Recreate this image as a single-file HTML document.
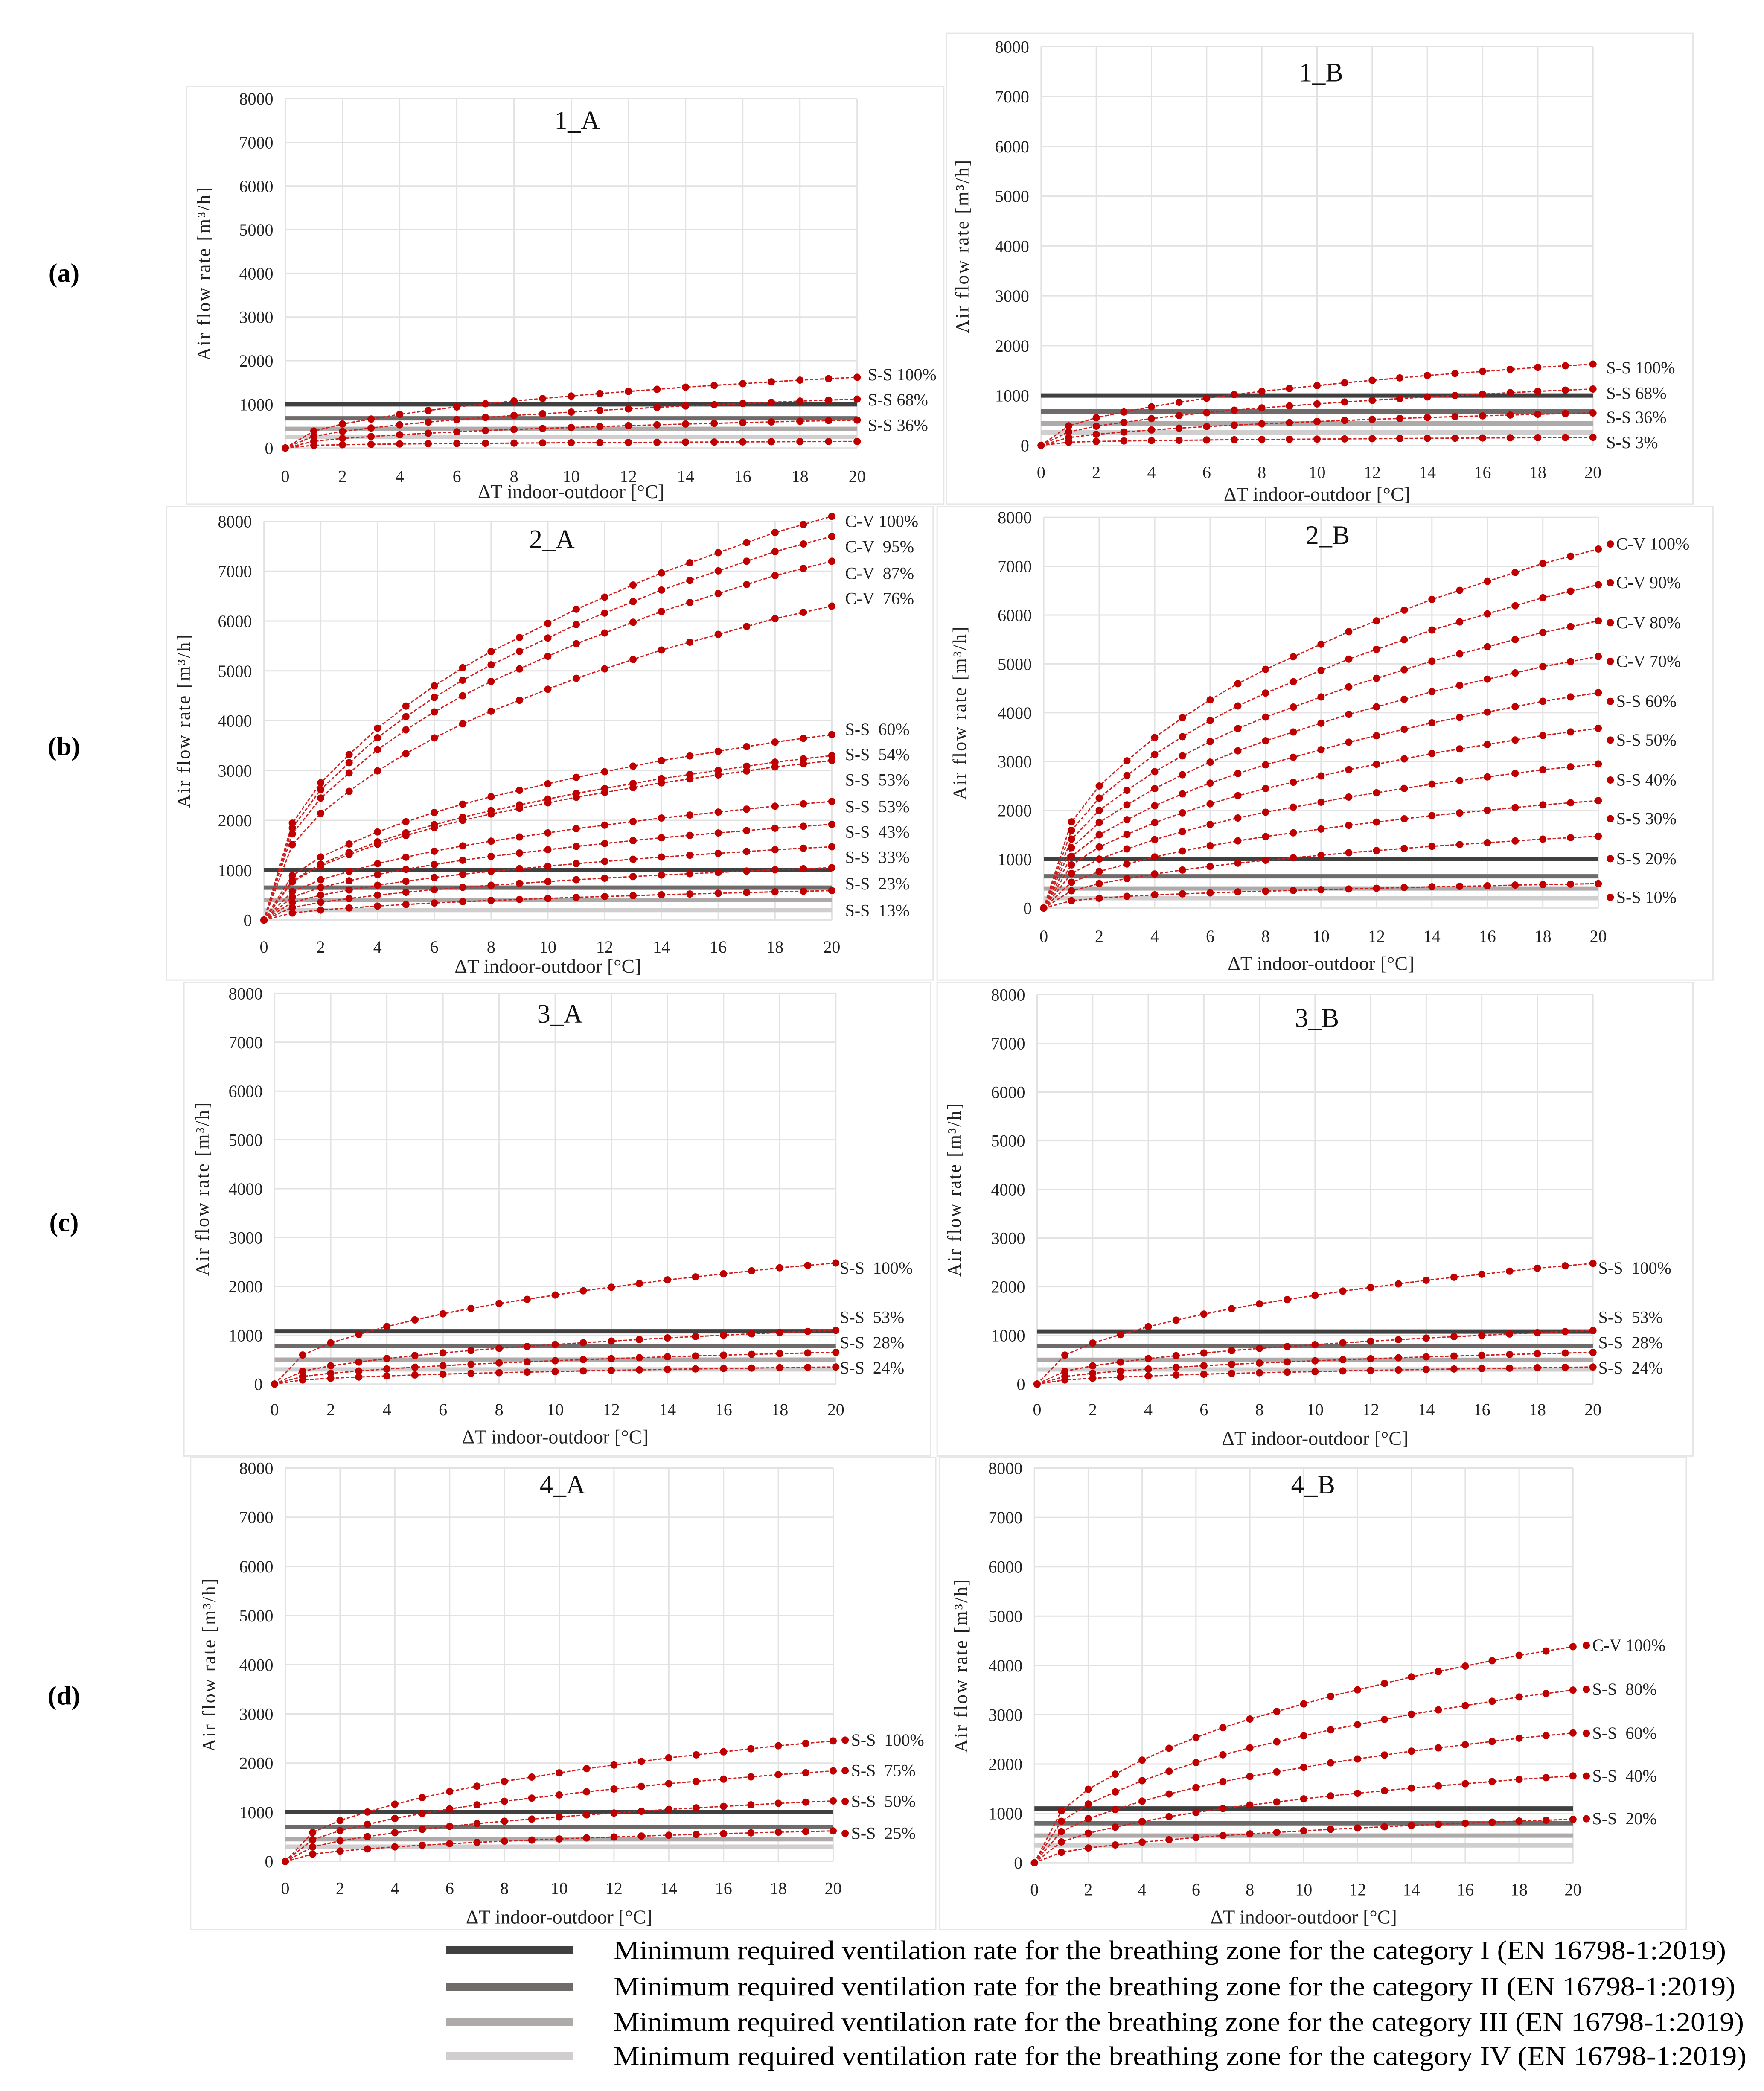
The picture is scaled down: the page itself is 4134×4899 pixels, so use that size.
<!DOCTYPE html>
<html><head><meta charset="utf-8">
<style>
html,body{margin:0;padding:0;background:#fff;}
svg{display:block;font-family:"Liberation Serif",serif;}
</style></head>
<body>
<svg id="chart" width="4134" height="4899" viewBox="0 0 4134 4899" xmlns="http://www.w3.org/2000/svg">
<rect x="0" y="0" width="4134" height="4899" fill="#fff"/>
<g id="panels"></g>
<g id="legend"></g>
</svg>
<script>
// ---------- data ----------
const xCategories = [0,1,2,3,4,5,6,7,8,9,10,11,12,13,14,15,16,17,18,19,20];
const xTickLabels = ["0","2","4","6","8","10","12","14","16","18","20"];
const yTickLabels = ["0","1000","2000","3000","4000","5000","6000","7000","8000"];
const refCategories = ["Category I","Category II","Category III","Category IV"];

const p1A_ss100 = [0,389,551,664,770,859,940,1013,1077,1134,1191,1247,1296,1345,1393,1434,1474,1515,1555,1588,1620];
const p1A_ss68  = [0,269,381,459,532,594,650,700,745,784,823,862,896,930,963,991,1019,1047,1075,1098,1120];
const p1A_ss36  = [0,154,218,262,304,339,371,400,426,448,470,493,512,531,550,566,582,598,614,627,640];
const p1A_ss3   = [0,60,75,85,92,98,103,108,112,116,120,124,127,131,134,137,140,143,146,148,150];
const p1A_ref = [1000,680,440,260];

const p1B_ss100 = [0,391,554,668,774,864,945,1019,1084,1141,1198,1255,1304,1353,1402,1443,1483,1524,1565,1597,1630];
const p1B_ss68  = [0,271,384,463,537,599,655,706,751,791,831,870,904,938,972,1000,1028,1057,1085,1107,1130];
const p1B_ss36  = [0,156,221,267,309,345,377,406,432,455,478,501,520,540,559,575,592,608,624,637,650];
const p1B_ss3   = [0,62,78,88,95,101,107,112,117,121,125,129,133,137,141,144,148,151,154,157,160];
const p1B_ref = [1000,680,440,260];

const p2A_cv100 = [0,1944,2754,3321,3848,4293,4698,5063,5387,5670,5954,6237,6480,6723,6966,7169,7371,7574,7776,7938,8100];
const p2A_cv95  = [0,1848,2618,3157,3658,4081,4466,4813,5121,5390,5660,5929,6160,6391,6622,6815,7007,7200,7392,7546,7700];
const p2A_cv87  = [0,1728,2448,2952,3420,3816,4176,4500,4788,5040,5292,5544,5760,5976,6192,6372,6552,6732,6912,7056,7200];
const p2A_cv76  = [0,1512,2142,2583,2993,3339,3654,3938,4190,4410,4631,4851,5040,5229,5418,5576,5733,5891,6048,6174,6300];
const p2A_ss60  = [0,893,1265,1525,1767,1972,2158,2325,2474,2604,2734,2864,2976,3088,3199,3292,3385,3478,3571,3646,3720];
const p2A_ss54  = [0,792,1122,1353,1568,1749,1914,2063,2195,2310,2426,2541,2640,2739,2838,2921,3003,3086,3168,3234,3300];
const p2A_ss53a = [0,768,1088,1312,1520,1696,1856,2000,2128,2240,2352,2464,2560,2656,2752,2832,2912,2992,3072,3136,3200];
const p2A_ss53b = [0,571,809,976,1131,1261,1380,1488,1583,1666,1749,1833,1904,1975,2047,2106,2166,2225,2285,2332,2380];
const p2A_ss43  = [0,461,653,787,912,1018,1114,1200,1277,1344,1411,1478,1536,1594,1651,1699,1747,1795,1843,1882,1920];
const p2A_ss33  = [0,353,500,603,698,779,853,919,978,1029,1080,1132,1176,1220,1264,1301,1338,1374,1411,1441,1470];
const p2A_ss23  = [0,252,357,431,499,557,609,656,698,735,772,809,840,872,903,929,956,982,1008,1029,1050];
const p2A_ss13  = [0,142,201,242,280,313,342,369,392,413,434,454,472,490,507,522,537,552,566,578,590];
const p2A_ref = [1000,650,400,200];

const p2B_cv100 = [0,1764,2499,3014,3491,3896,4263,4594,4888,5145,5402,5660,5880,6101,6321,6505,6689,6872,7056,7203,7350];
const p2B_cv90  = [0,1589,2251,2714,3145,3509,3840,4138,4402,4634,4866,5097,5296,5495,5693,5859,6024,6190,6355,6488,6620];
const p2B_cv80  = [0,1411,1999,2411,2793,3116,3410,3675,3910,4116,4322,4528,4704,4880,5057,5204,5351,5498,5645,5762,5880];
const p2B_cv70  = [0,1236,1751,2112,2446,2730,2987,3219,3425,3605,3785,3966,4120,4275,4429,4558,4687,4815,4944,5047,5150];
const p2B_ss60  = [0,1058,1499,1808,2095,2337,2558,2756,2933,3087,3241,3396,3528,3660,3793,3903,4013,4123,4234,4322,4410];
const p2B_ss50  = [0,883,1251,1509,1748,1950,2134,2300,2447,2576,2705,2834,2944,3054,3165,3257,3349,3441,3533,3606,3680];
const p2B_ss40  = [0,708,1003,1210,1401,1564,1711,1844,1962,2065,2168,2272,2360,2449,2537,2611,2685,2758,2832,2891,2950];
const p2B_ss30  = [0,528,748,902,1045,1166,1276,1375,1463,1540,1617,1694,1760,1826,1892,1947,2002,2057,2112,2156,2200];
const p2B_ss20  = [0,353,500,603,698,779,853,919,978,1029,1080,1132,1176,1220,1264,1301,1338,1374,1411,1441,1470];
const p2B_ss10  = [0,150,200,240,270,290,310,330,345,360,375,390,405,420,435,445,455,470,480,490,500];
const p2B_ref = [1000,650,400,200];

const p3A_ss100 = [0,595,843,1017,1178,1314,1438,1550,1649,1736,1823,1910,1984,2058,2133,2195,2257,2319,2381,2430,2480];
const p3A_ss53  = [0,264,374,451,523,583,638,688,732,770,809,847,880,913,946,974,1001,1029,1056,1078,1100];
const p3A_ss28  = [0,156,221,267,309,345,377,406,432,455,478,501,520,540,559,575,592,608,624,637,650];
const p3A_ss24  = [0,84,119,144,166,186,203,219,233,245,257,270,280,291,301,310,319,327,336,343,350];
const p3A_ref = [1080,780,500,300];

const p3B_ss100 = [0,595,843,1017,1178,1314,1438,1550,1649,1736,1823,1910,1984,2058,2133,2195,2257,2319,2381,2430,2480];
const p3B_ss53  = [0,264,374,451,523,583,638,688,732,770,809,847,880,913,946,974,1001,1029,1056,1078,1100];
const p3B_ss28  = [0,156,221,267,309,345,377,406,432,455,478,501,520,540,559,575,592,608,624,637,650];
const p3B_ss24  = [0,84,119,144,166,186,203,219,233,245,257,270,280,291,301,310,319,327,336,343,350];
const p3B_ref = [1080,780,500,300];

const p4A_ss100 = [0,588,833,1005,1164,1299,1421,1531,1629,1715,1801,1887,1960,2034,2107,2168,2230,2291,2352,2401,2450];
const p4A_ss75  = [0,442,626,754,874,975,1067,1150,1224,1288,1352,1417,1472,1527,1582,1628,1674,1720,1766,1803,1840];
const p4A_ss50  = [0,295,418,504,584,652,713,769,818,861,904,947,984,1021,1058,1089,1119,1150,1181,1205,1230];
const p4A_ss25  = [0,149,211,254,295,329,360,388,412,434,456,477,496,515,533,549,564,580,595,608,620];
const p4A_ref = [1000,700,450,300];

const p4B_cv100 = [0,1051,1489,1796,2081,2321,2540,2738,2913,3066,3219,3373,3504,3635,3767,3876,3986,4095,4205,4292,4380];
const p4B_ss80  = [0,840,1190,1435,1663,1855,2030,2188,2328,2450,2573,2695,2800,2905,3010,3098,3185,3273,3360,3430,3500];
const p4B_ss60  = [0,631,894,1078,1249,1394,1525,1644,1749,1841,1933,2025,2104,2183,2262,2328,2393,2459,2525,2577,2630];
const p4B_ss40  = [0,422,598,722,836,933,1021,1100,1170,1232,1294,1355,1408,1461,1514,1558,1602,1646,1690,1725,1760];
const p4B_ss20  = [0,211,299,361,418,466,510,550,585,616,647,678,704,730,757,779,801,823,845,862,880];
const p4B_ref = [1100,800,550,350];

// ---------- layout (thumbnail units, scaled) ----------
const S = 3.124;
const NS = "http://www.w3.org/2000/svg";
const refColors = ["#404040","#6f6b6b","#aeaaaa","#d0cece"];
function mk(tag, attrs, parent){ const e=document.createElementNS(NS,tag); for(const k in attrs) e.setAttribute(k,attrs[k]); if(parent) parent.appendChild(e); return e; }

const panels = [
 {id:"1A", title:"1_A", frame:[140,65,708,378], x0:214,x1:643,yTop:74,yBot:336, tx:433,ty:90, lx:651, dot:false, ylx:153, xlab:369, xtk:357, ref:p1A_ref,
  series:[[p1A_ss100,"S-S 100%",281],[p1A_ss68,"S-S 68%",300],[p1A_ss36,"S-S 36%",319],[p1A_ss3,null,0]]},
 {id:"1B", title:"1_B", frame:[710,25,1270,378], x0:781,x1:1195,yTop:35,yBot:334, tx:991,ty:54, lx:1205, dot:false, ylx:722, xlab:371, xtk:354, ref:p1B_ref,
  series:[[p1B_ss100,"S-S 100%",276],[p1B_ss68,"S-S 68%",295],[p1B_ss36,"S-S 36%",313],[p1B_ss3,"S-S 3%",332]]},
 {id:"2A", title:"2_A", frame:[125,380,700,735], x0:198,x1:624,yTop:391,yBot:690, tx:414,ty:404, lx:634, dot:false, ylx:138, xlab:725, xtk:710, ref:p2A_ref,
  series:[[p2A_cv100,"C-V 100%",391],[p2A_cv95,"C-V  95%",410],[p2A_cv87,"C-V  87%",430],[p2A_cv76,"C-V  76%",449],
          [p2A_ss60,"S-S  60%",547],[p2A_ss54,"S-S  54%",566],[p2A_ss53a,"S-S  53%",585],[p2A_ss53b,"S-S  53%",605],
          [p2A_ss43,"S-S  43%",624],[p2A_ss33,"S-S  33%",643],[p2A_ss23,"S-S  23%",663],[p2A_ss13,"S-S  13%",683]]},
 {id:"2B", title:"2_B", frame:[703,380,1285,735], x0:783,x1:1199,yTop:388,yBot:681, tx:996,ty:401, lx:1208, dot:true, ylx:720, xlab:723, xtk:702, ref:p2B_ref,
  series:[[p2B_cv100,"C-V 100%",408],[p2B_cv90,"C-V 90%",437],[p2B_cv80,"C-V 80%",467],[p2B_cv70,"C-V 70%",496],
          [p2B_ss60,"S-S 60%",526],[p2B_ss50,"S-S 50%",555],[p2B_ss40,"S-S 40%",585],[p2B_ss30,"S-S 30%",614],
          [p2B_ss20,"S-S 20%",644],[p2B_ss10,"S-S 10%",673]]},
 {id:"3A", title:"3_A", frame:[138,737,698,1092], x0:206,x1:627,yTop:745,yBot:1038, tx:420,ty:760, lx:630, dot:false, ylx:152, xlab:1078, xtk:1057, ref:p3A_ref,
  series:[[p3A_ss100,"S-S  100%",951],[p3A_ss53,"S-S  53%",988],[p3A_ss28,"S-S  28%",1007],[p3A_ss24,"S-S  24%",1026]]},
 {id:"3B", title:"3_B", frame:[703,737,1270,1092], x0:778,x1:1195,yTop:746,yBot:1038, tx:988,ty:763, lx:1199, dot:false, ylx:716, xlab:1079, xtk:1057, ref:p3B_ref,
  series:[[p3B_ss100,"S-S  100%",951],[p3B_ss53,"S-S  53%",988],[p3B_ss28,"S-S  28%",1007],[p3B_ss24,"S-S  24%",1026]]},
 {id:"4A", title:"4_A", frame:[143,1093,702,1447], x0:214,x1:625,yTop:1101,yBot:1396, tx:422,ty:1113, lx:634, dot:true, ylx:157, xlab:1438, xtk:1416, ref:p4A_ref,
  series:[[p4A_ss100,"S-S  100%",1305],[p4A_ss75,"S-S  75%",1328],[p4A_ss50,"S-S  50%",1351],[p4A_ss25,"S-S  25%",1375]]},
 {id:"4B", title:"4_B", frame:[705,1093,1265,1447], x0:776,x1:1180,yTop:1101,yBot:1397, tx:985,ty:1113, lx:1190, dot:true, ylx:721, xlab:1438, xtk:1417, ref:p4B_ref,
  series:[[p4B_cv100,"C-V 100%",1234],[p4B_ss80,"S-S  80%",1267],[p4B_ss60,"S-S  60%",1300],[p4B_ss40,"S-S  40%",1332],[p4B_ss20,"S-S  20%",1364]]}
];

const root = document.getElementById('panels');
panels.forEach(P=>{
  const g = mk('g',{},root);
  
  
  const X0=P.x0*S, X1=P.x1*S, YT=P.yTop*S, YB=P.yBot*S;
  const xs = v => X0 + (v-0)/(20-0)*(X1-X0);
  const ys = v => YB - v/8000*(YB-YT);
  const f=P.frame;
  const fr = mk('rect',{x:f[0]*S,y:f[1]*S,width:(f[2]-f[0])*S,height:(f[3]-f[1])*S,fill:'none',stroke:'#e6e6e6','stroke-width':3},g);
  
  
  yTickLabels.forEach(t=>{
    const v=+t, y=ys(v);
    const l=mk('line',{x1:X0,x2:X1,y1:y,y2:y,stroke:'#e2e2e2','stroke-width':3},g);
    
    
    const tx=mk('text',{x:X0-28,y:y+14,'text-anchor':'end','font-size':40,fill:'#222'},g);
    tx.textContent=t;
    
    
  });
  xTickLabels.forEach(t=>{
    const v=+t, x=xs(v);
    const l=mk('line',{x1:x,x2:x,y1:YT,y2:YB,stroke:'#e2e2e2','stroke-width':3},g);
    
    
    const tx=mk('text',{x:x,y:P.xtk*S+14,'text-anchor':'middle','font-size':40,fill:'#222'},g);
    tx.textContent=t;
    
    
  });
  P.ref.forEach((v,i)=>{
    const l=mk('line',{x1:X0,x2:X1,y1:ys(v),y2:ys(v),stroke:refColors[i],'stroke-width':10},g);
    
    
  });
  P.series.forEach(s=>{
    const vals=s[0];
    const sg=mk('g',{},g);
    
    
    const pts=vals.map((v,i)=>xs(xCategories[i])+','+ys(v)).join(' ');
    const pl=mk('polyline',{points:pts,fill:'none',stroke:'#d02020','stroke-width':3,'stroke-dasharray':'8 4'},sg);
    
    
    vals.forEach((v,i)=>{
      const c=mk('circle',{cx:xs(xCategories[i]),cy:ys(v),r:8.5,fill:'#c00000'},sg);
      
      
    });
    if(s[1]){
      let lx=P.lx*S;
      if(P.dot){
        const d=mk('circle',{cx:lx,cy:s[2]*S,r:8.5,fill:'#c00000'},sg);
        
        
        lx+=14;
      }
      const t=mk('text',{x:lx,y:s[2]*S+13,'font-size':40,fill:'#222'},sg);
      t.style.whiteSpace='pre';
      t.textContent=s[1];
      
      
    }
  });
  const tt=mk('text',{x:P.tx*S,y:P.ty*S+22,'text-anchor':'middle','font-size':62,fill:'#111'},g);
  tt.textContent=P.title;
  
  
  const cy=(YT+YB)/2;
  const yl=mk('text',{x:0,y:0,'text-anchor':'middle','font-size':44,fill:'#222','letter-spacing':'3',transform:`translate(${P.ylx*S+14},${cy}) rotate(-90)`},g);
  yl.textContent='Air flow rate [m³/h]';
  
  
  const xl=mk('text',{x:(X0+X1)/2,y:P.xlab*S+14,'text-anchor':'middle','font-size':46,fill:'#222'},g);
  xl.textContent='ΔT indoor-outdoor [°C]';
  
  
});

[["(a)",205],["(b)",560],["(c)",917],["(d)",1272]].forEach(r=>{
  const t=mk('text',{x:48*S,y:r[1]*S+20,'text-anchor':'middle','font-size':62,'font-weight':'bold',fill:'#000'},root);
  t.textContent=r[0];
  
  
});

const lg=document.getElementById('legend');
const legendText=["I","II","III","IV"];
const legendY=[4570,4655,4738,4818];
const legendEnd=[4045,4067,4087,4093];
legendText.forEach((c,i)=>{
  const l=mk('rect',{x:1046,y:legendY[i]-10,width:297,height:19,fill:refColors[i]},lg);
  
  
  const t=mk('text',{x:1438,y:legendY[i]+20,'font-size':62,fill:'#000',textLength:legendEnd[i]-1438,lengthAdjust:'spacingAndGlyphs'},lg);
  t.textContent='Minimum required ventilation rate for the breathing zone for the category '+c+' (EN 16798-1:2019)';
  
  
});
</script>
</body></html>
